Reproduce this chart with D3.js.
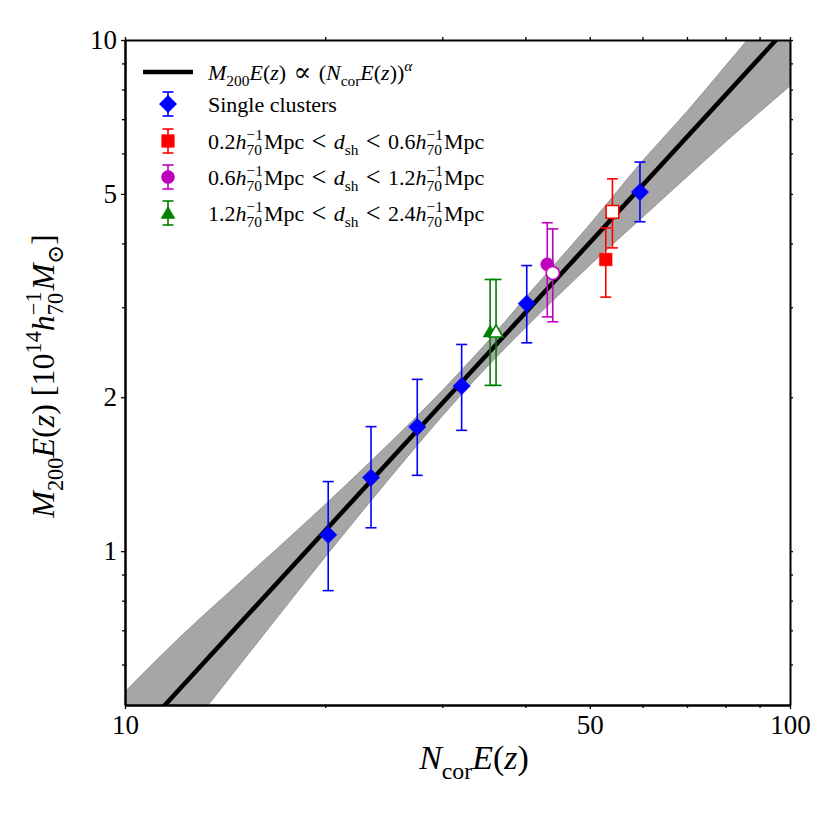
<!DOCTYPE html>
<html>
<head>
<meta charset="utf-8">
<script src="https://cdn.jsdelivr.net/npm/d3@7"></script>
<style>
  body { margin: 0; background: #fff; }
  svg { font-family: "Liberation Serif", "DejaVu Serif", serif; }
  svg text { white-space: pre; }
</style>
</head>
<body>
<svg id="chart" width="830" height="830"></svg>
<script>
// ---------------- data ----------------
const singleN  = [20.21, 23.44, 27.51, 32.08, 40.19, 59.48];
const singleM  = [1.076, 1.393, 1.749, 2.103, 3.05, 5.04];
const singleLo = [0.837, 1.111, 1.407, 1.723, 2.556, 4.41];
const singleHi = [1.368, 1.752, 2.168, 2.537, 3.62, 5.77];

const redN  = [52.84, 54.07];
const redM  = [3.72, 4.61];
const redLo = [3.14, 3.92];
const redHi = [4.29, 5.35];
const redOpen = [false, true];

const magN  = [43.15, 43.98];
const magM  = [3.64, 3.50];
const magLo = [2.873, 2.81];
const magHi = [4.39, 4.27];
const magOpen = [false, true];

const grnN  = [35.40, 36.14];
const grnM  = [2.69, 2.69];
const grnLo = [2.11, 2.11];
const grnHi = [3.40, 3.40];
const grnOpen = [false, true];

const fitN = [10, 100];
const fitM = [0.411, 10.71];

const bandN  = [10, 12, 15, 20, 25, 30, 35, 40, 50, 60, 70, 80, 100];
const bandLo = [0.318, 0.421, 0.607, 0.974, 1.389, 1.838, 2.292, 2.735, 3.624, 4.50, 5.40, 6.32, 8.13];
const bandHi = [0.531, 0.672, 0.877, 1.234, 1.628, 2.063, 2.559, 3.131, 4.36, 5.80, 7.25, 8.90, 12.6];

const xMajor = [10, 50, 100];
const xMinor = [20, 30, 40, 60, 70, 80, 90];
const yMajor = [1, 2, 5, 10];
const yMinor = [0.6, 0.7, 0.8, 0.9, 3, 4, 6, 7, 8, 9];

// ---------------- layout ----------------
const svg = d3.select("#chart");
const L = 125, T = 40, W = 665, H = 665;
const x = d3.scaleLog().domain([10, 100]).range([0, W]);
const y = d3.scaleLog().domain([0.5, 10]).range([H, 0]);

const g = svg.append("g").attr("transform", `translate(${L},${T})`);

svg.append("defs").append("clipPath").attr("id", "clip")
  .append("rect").attr("width", W).attr("height", H);

const plot = g.append("g").attr("clip-path", "url(#clip)");

// band
const bandData = bandN.map((n, i) => ({n, lo: bandLo[i], hi: bandHi[i]}));
plot.append("path").datum(bandData)
  .attr("d", d3.area().x(d => x(d.n)).y0(d => y(d.lo)).y1(d => y(d.hi)).curve(d3.curveMonotoneX))
  .attr("fill", "#a6a6a6").attr("stroke", "#8a8a8a").attr("stroke-width", 0.8);

// fit line
plot.append("path").datum(fitN.map((n, i) => ({n, m: fitM[i]})))
  .attr("d", d3.line().x(d => x(d.n)).y(d => y(d.m)))
  .attr("stroke", "#000").attr("stroke-width", 4.5).attr("fill", "none");

// markers
const symDiamond = d3.symbol().type(d3.symbolSquare).size(150)();
const symSquare = d3.symbol().type(d3.symbolSquare).size(160)();
const symCircle = d3.symbol().type(d3.symbolCircle).size(135)();
const symTri = d3.symbol().type(d3.symbolTriangle).size(85)();

function drawErr(parent, px, pLo, pHi, color) {
  parent.append("line").attr("x1", px).attr("x2", px).attr("y1", pLo).attr("y2", pHi)
    .attr("stroke", color).attr("stroke-width", 1.6);
  [pLo, pHi].forEach(py => parent.append("line")
    .attr("x1", px - 5.5).attr("x2", px + 5.5).attr("y1", py).attr("y2", py)
    .attr("stroke", color).attr("stroke-width", 1.6));
}
function drawMarker(parent, px, py, sym, color, open, rot) {
  parent.append("path").attr("d", sym)
    .attr("transform", `translate(${px},${py})` + (rot ? ` rotate(${rot})` : ""))
    .attr("fill", open ? "#fff" : color)
    .attr("stroke", color).attr("stroke-width", open ? 1.6 : 0.5);
}
function series(N, M, Lo, Hi, color, sym, open, rot, triOffset) {
  N.forEach((n, i) => {
    drawErr(plot, x(n), y(Lo[i]), y(Hi[i]), color);
  });
  N.forEach((n, i) => {
    drawMarker(plot, x(n), y(M[i]) + (triOffset || 0), sym, color, open ? open[i] : false, rot);
  });
}
series(grnN, grnM, grnLo, grnHi, "#008000", symTri, grnOpen, 0, 1.5);
series(singleN, singleM, singleLo, singleHi, "#0000ff", symDiamond, null, 45);
series(magN, magM, magLo, magHi, "#bf00bf", symCircle, magOpen, 0);
series(redN, redM, redLo, redHi, "#ff0000", symSquare, redOpen, 0);

// ---------------- axes ----------------
function styleAxis(sel) {
  sel.select(".domain").attr("stroke", "#000").attr("stroke-width", 2);
  sel.selectAll(".tick line").attr("stroke", "#000").attr("stroke-width", 1.3);
  sel.selectAll(".tick text").attr("font-size", 27).attr("fill", "#000")
    .attr("font-family", "'Liberation Serif','DejaVu Serif',serif");
}
const fmt = d3.format("d");
g.append("g").attr("transform", `translate(0,${H})`)
  .call(d3.axisBottom(x).tickValues(xMajor).tickFormat(fmt).tickSize(4).tickPadding(6).tickSizeOuter(0))
  .call(styleAxis);
g.append("g").attr("transform", `translate(0,${H})`)
  .call(d3.axisBottom(x).tickValues(xMinor).tickFormat("").tickSize(3).tickSizeOuter(0)).call(styleAxis);
g.append("g")
  .call(d3.axisTop(x).tickValues(xMajor.concat(xMinor)).tickFormat("").tickSize(3).tickSizeOuter(0)).call(styleAxis);
g.append("g")
  .call(d3.axisLeft(y).tickValues(yMajor).tickFormat(fmt).tickSize(4).tickPadding(4).tickSizeOuter(0))
  .call(styleAxis);
g.append("g")
  .call(d3.axisLeft(y).tickValues(yMinor).tickFormat("").tickSize(3).tickSizeOuter(0)).call(styleAxis);
g.append("g").attr("transform", `translate(${W},0)`)
  .call(d3.axisRight(y).tickValues(yMajor.concat(yMinor)).tickFormat("").tickSize(3).tickSizeOuter(0)).call(styleAxis);

// ---------------- rich text helper ----------------
function rich(parent, segs, px, py, fs, anchor) {
  const grp = parent.append("g");
  let cx = 0;
  function piece(t, it, size, ox, oy) {
    const el = grp.append("text").attr("x", ox).attr("y", oy).attr("font-size", size)
      .attr("xml:space", "preserve")
      .attr("font-style", it ? "italic" : "normal").attr("fill", "#000").text(t);
    return el.node().getComputedTextLength();
  }
  segs.forEach(s => {
    const sz = fs * 0.7;
    if (s.p === "sub") cx += piece(s.t, s.i, sz, cx, fs * 0.28);
    else if (s.p === "sup") cx += piece(s.t, s.i, sz, cx, -fs * 0.42);
    else if (s.p === "ss") {
      const w1 = piece(s.sub, false, sz, cx, fs * 0.28);
      const w2 = piece(s.sup, false, sz, cx, -fs * 0.42);
      cx += Math.max(w1, w2) + 1;
    } else if (s.p === "big") cx += piece(s.t, s.i, fs * 1.2, cx, fs * 0.05);
    else cx += piece(s.t, s.i, fs, cx, 0);
  });
  const off = anchor === "middle" ? -cx / 2 : 0;
  grp.attr("transform", `translate(${px + off},${py})`);
  return grp;
}
const h70 = [{t: "h", i: true}, {p: "ss", sub: "70", sup: "\u22121"}];
const sp = "\u2004";
function shellText(a, b) {
  return [{t: a}].concat(h70, [{t: "Mpc" + sp}, {t: "<", p: "big"}, {t: sp}, {t: "d", i: true}, {t: "sh", p: "sub"},
    {t: sp}, {t: "<", p: "big"}, {t: sp + b}], h70, [{t: "Mpc"}]);
}

// ---------------- legend ----------------
const leg = svg.append("g");
const legX = 168, textX = 208, fsL = 22;
const rows = [72, 104, 141, 177, 213];
leg.append("line").attr("x1", 143).attr("x2", 193).attr("y1", rows[0]).attr("y2", rows[0])
  .attr("stroke", "#000").attr("stroke-width", 4.5);
rich(leg, [{t: "M", i: true}, {t: "200", p: "sub"}, {t: "E", i: true}, {t: "("}, {t: "z", i: true}, {t: ")" + sp},
  {t: "\u221D", p: "big"}, {t: sp + "("}, {t: "N", i: true}, {t: "cor", p: "sub"}, {t: "E", i: true}, {t: "("}, {t: "z", i: true},
  {t: "))"}, {t: "\u03B1", i: true, p: "sup"}], textX, rows[0] + 8, fsL, "start");

const legItems = [
  {c: "#0000ff", sym: symDiamond, rot: 45, txt: [{t: "Single clusters"}], dy: 0},
  {c: "#ff0000", sym: symSquare, rot: 0, txt: shellText("0.2", "0.6"), dy: 0},
  {c: "#bf00bf", sym: symCircle, rot: 0, txt: shellText("0.6", "1.2"), dy: 0},
  {c: "#008000", sym: symTri, rot: 0, txt: shellText("1.2", "2.4"), dy: 1.5}
];
legItems.forEach((it, k) => {
  const ry = rows[k + 1];
  drawErr(leg, legX, ry + 12, ry - 12, it.c);
  drawMarker(leg, legX, ry + it.dy, it.sym, it.c, false, it.rot);
  rich(leg, it.txt, textX, ry + 8, fsL, "start");
});

// ---------------- axis labels ----------------
rich(svg, [{t: "N", i: true}, {t: "cor", p: "sub"}, {t: "E", i: true}, {t: "("}, {t: "z", i: true}, {t: ")"}],
  474, 769, 34, "middle");

const yl = svg.append("g").attr("transform", "translate(54,376) rotate(-90)");
rich(yl, [{t: "M", i: true}, {t: "200", p: "sub"}, {t: "E", i: true}, {t: "("}, {t: "z", i: true}, {t: ")"},
  {t: " [10"}, {t: "14", p: "sup"}].concat(h70, [{t: "M", i: true}, {t: "\u2299", p: "sub"}, {t: "]"}]),
  0, 0, 32, "middle");
</script>
</body>
</html>
